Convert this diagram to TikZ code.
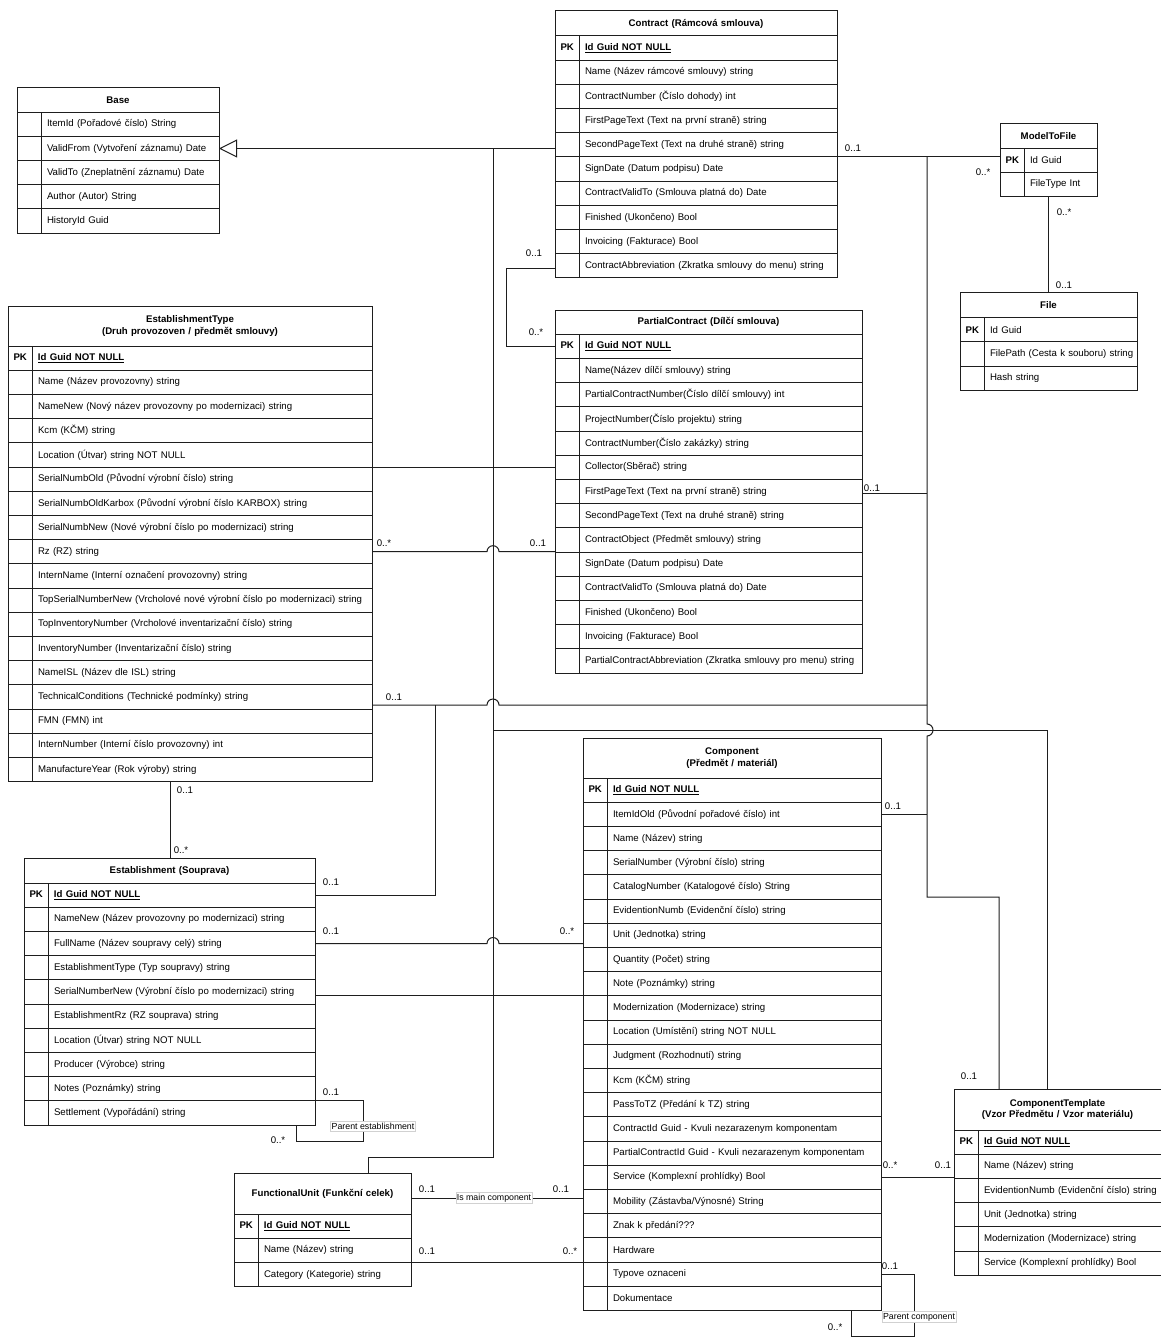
\documentclass[tikz,border=0pt]{standalone}
\usepackage{fontspec}
\setmainfont{Liberation Sans}
\usetikzlibrary{calc,arrows.meta}

\definecolor{erline}{RGB}{30,30,30}
\newcommand\erfont{\fontsize{9.65}{11.6}\selectfont}
\newcommand\erlblfont{\fontsize{8.8}{10}\selectfont}
\newcommand\rowh{24.2}
\newcommand\keyw{24.5}

% a table header: name, x, y, width, header height, title
\newcommand\ertable[6]{%
  \gdef\curT{#1}\gdef\curW{#4}\gdef\curN{0}%
  \node[ertitle, text width=#4pt, minimum height=#5pt, anchor=north west] (#1) at (#2,#3) {#6};%
}
% one attribute row of the current table: key, text
\newcommand\errow[2]{%
  \pgfmathtruncatemacro\nextN{\curN+1}\xdef\curN{\nextN}%
  \node[errow, text width=\curW pt, minimum height=\rowh pt, anchor=north west]
    (\curT-\curN) at ($(\curT.south west)+(0,{(\curN-1)*\rowh})$)
    {\mbox{\makebox[\keyw pt][c]{\bfseries #1}\hspace{5.5pt}#2}};%
}
% divider of the key column of the current table
\newcommand\erkeycol{%
  \draw[erbox] ($(\curT.south west)+(\keyw pt,0)$) -- ($(\curT-\curN.south west)+(\keyw pt,0)$);%
}
\newcommand\pkid{\textbf{\underline{Id Guid NOT NULL}}}

\begin{document}
\begin{tikzpicture}[x=1pt,y=-1pt,
  erbox/.style={draw=erline, line width=1pt},
  ertitle/.style={erbox, inner sep=0pt, outer sep=0pt, align=center, font=\erfont\bfseries},
  errow/.style={erbox, inner sep=0pt, outer sep=0pt, align=left, font=\erfont},
  rel/.style={draw=erline, line width=1pt},
  mult/.style={font=\erfont, inner sep=0pt},
  rolelabel/.style={font=\erlblfont, fill=white, draw=black!18, line width=0.4pt, inner xsep=1pt, inner ysep=1.5pt},
]
\fill[white] (0,0) rectangle (1160,1337);
\useasboundingbox (0,0) rectangle (1160,1337);

% ---------- Base ----------
\ertable{base}{17}{88}{202}{24.2}{Base}
\errow{}{ItemId (Pořadové číslo) String}
\errow{}{ValidFrom (Vytvoření záznamu) Date}
\errow{}{ValidTo (Zneplatnění záznamu) Date}
\errow{}{Author (Autor) String}
\errow{}{HistoryId Guid}
\erkeycol

% ---------- Contract ----------
\ertable{ct}{555}{11}{282}{25}{Contract (Rámcová smlouva)}
\errow{PK}{\pkid}
\errow{}{Name (Název rámcové smlouvy) string}
\errow{}{ContractNumber (Číslo dohody) int}
\errow{}{FirstPageText (Text na první straně) string}
\errow{}{SecondPageText (Text na druhé straně) string}
\errow{}{SignDate (Datum podpisu) Date}
\errow{}{ContractValidTo (Smlouva platná do) Date}
\errow{}{Finished (Ukončeno) Bool}
\errow{}{Invoicing (Fakturace) Bool}
\errow{}{ContractAbbreviation (Zkratka smlouvy do menu) string}
\erkeycol

% ---------- ModelToFile ----------
\ertable{mf}{1000}{124}{97}{24.2}{ModelToFile}
\errow{PK}{Id Guid}
\errow{}{FileType Int}
\erkeycol

% ---------- File ----------
\ertable{fi}{960}{293}{177}{24.6}{File}
\errow{PK}{Id Guid}
\errow{}{FilePath (Cesta k souboru) string}
\errow{}{Hash string}
\erkeycol

% ---------- PartialContract ----------
\ertable{pc}{555}{310}{307}{24.2}{PartialContract (Dílčí smlouva)}
\errow{PK}{\pkid}
\errow{}{Name(Název dílčí smlouvy) string}
\errow{}{PartialContractNumber(Číslo dílčí smlouvy) int}
\errow{}{ProjectNumber(Číslo projektu) string}
\errow{}{ContractNumber(Číslo zakázky) string}
\errow{}{Collector(Sběrač) string}
\errow{}{FirstPageText (Text na první straně) string}
\errow{}{SecondPageText (Text na druhé straně) string}
\errow{}{ContractObject (Předmět smlouvy) string}
\errow{}{SignDate (Datum podpisu) Date}
\errow{}{ContractValidTo (Smlouva platná do) Date}
\errow{}{Finished (Ukončeno) Bool}
\errow{}{Invoicing (Fakturace) Bool}
\errow{}{PartialContractAbbreviation (Zkratka smlouvy pro menu) string}
\erkeycol

% ---------- EstablishmentType ----------
\ertable{et}{8}{306}{364}{40}{EstablishmentType\\(Druh provozoven / předmět smlouvy)}
\errow{PK}{\pkid}
\errow{}{Name (Název provozovny) string}
\errow{}{NameNew (Nový název provozovny po modernizaci) string}
\errow{}{Kcm (KČM) string}
\errow{}{Location (Útvar) string NOT NULL}
\errow{}{SerialNumbOld (Původní výrobní číslo) string}
\errow{}{SerialNumbOldKarbox (Původní výrobní číslo KARBOX) string}
\errow{}{SerialNumbNew (Nové výrobní číslo po modernizaci) string}
\errow{}{Rz (RZ) string}
\errow{}{InternName (Interní označení provozovny) string}
\errow{}{TopSerialNumberNew (Vrcholové nové výrobní číslo po modernizaci) string}
\errow{}{TopInventoryNumber (Vrcholové inventarizační číslo) string}
\errow{}{InventoryNumber (Inventarizační číslo) string}
\errow{}{NameISL (Název dle ISL) string}
\errow{}{TechnicalConditions (Technické podmínky) string}
\errow{}{FMN (FMN) int}
\errow{}{InternNumber (Interní číslo provozovny) int}
\errow{}{ManufactureYear (Rok výroby) string}
\erkeycol

% ---------- Establishment ----------
\ertable{es}{24}{858}{291}{25}{Establishment (Souprava)}
\errow{PK}{\pkid}
\errow{}{NameNew (Název provozovny po modernizaci) string}
\errow{}{FullName (Název soupravy celý) string}
\errow{}{EstablishmentType (Typ soupravy) string}
\errow{}{SerialNumberNew (Výrobní číslo po modernizaci) string}
\errow{}{EstablishmentRz (RZ souprava) string}
\errow{}{Location (Útvar) string NOT NULL}
\errow{}{Producer (Výrobce) string}
\errow{}{Notes (Poznámky) string}
\errow{}{Settlement (Vypořádání) string}
\erkeycol

% ---------- FunctionalUnit ----------
\ertable{fu}{234}{1173}{177}{41}{FunctionalUnit (Funkční celek)}
\errow{PK}{\pkid}
\errow{}{Name (Název) string}
\errow{}{Category (Kategorie) string}
\erkeycol

% ---------- Component ----------
\ertable{co}{583}{738}{298}{40}{Component\\(Předmět / materiál)}
\errow{PK}{\pkid}
\errow{}{ItemIdOld (Původní pořadové číslo) int}
\errow{}{Name (Název) string}
\errow{}{SerialNumber (Výrobní číslo) string}
\errow{}{CatalogNumber (Katalogové číslo) String}
\errow{}{EvidentionNumb (Evidenční číslo) string}
\errow{}{Unit (Jednotka) string}
\errow{}{Quantity (Počet) string}
\errow{}{Note (Poznámky) string}
\errow{}{Modernization (Modernizace) string}
\errow{}{Location (Umístění) string NOT NULL}
\errow{}{Judgment (Rozhodnutí) string}
\errow{}{Kcm (KČM) string}
\errow{}{PassToTZ (Předání k TZ) string}
\errow{}{ContractId Guid - Kvuli nezarazenym komponentam}
\errow{}{PartialContractId Guid - Kvuli nezarazenym komponentam}
\errow{}{Service (Komplexní prohlídky) Bool}
\errow{}{Mobility (Zástavba/Výnosné) String}
\errow{}{Znak k předání???}
\errow{}{Hardware}
\errow{}{Typove oznaceni}
\errow{}{Dokumentace}
\erkeycol

% ---------- ComponentTemplate ----------
\ertable{ctp}{954}{1089}{207}{41}{ComponentTemplate\\(Vzor Předmětu / Vzor materiálu)}
\errow{PK}{\pkid}
\errow{}{Name (Název) string}
\errow{}{EvidentionNumb (Evidenční číslo) string}
\errow{}{Unit (Jednotka) string}
\errow{}{Modernization (Modernizace) string}
\errow{}{Service (Komplexní prohlídky) Bool}
\erkeycol

% ---------- generalisation into Base ----------
\coordinate (gTop) at (493,148.5);
\coordinate (gMid) at (493,730);
\coordinate (gLow) at (493,1157);
\coordinate (gFu) at (368,1157);
\coordinate (gCt) at (1047,730);
\draw[rel, -{Triangle[open, length=18pt, width=18pt]}] (ct.west |- base-2.east) -- (base-2.east);
\draw[rel] (gTop) -- (gLow) -- (gFu) -- (gFu |- fu.north);
\draw[rel] (et-6.north east) -- (pc.west |- et-6.north east);
\draw[rel] (es.east |- co-10.north west) -- (co-10.north west);
\draw[rel] (gMid) -- (gCt) -- (gCt |- ctp.north);

% ---------- Contract -- PartialContract ----------
\coordinate (cpA) at (506,269);
\draw[rel] (ct.west |- cpA) -- (cpA) -- (cpA |- pc-1.west) -- (pc-1.west);

% ---------- links to ModelToFile ----------
\coordinate (mTop) at (927,157);
\coordinate (mLow) at (927,897);
\coordinate (mCt) at (999,897);
\coordinate (mEs) at (435,705);
\draw[rel] (ct-5.south east) -- (mf.west |- ct-5.south east);
\draw[rel] (mTop) -- (927,724) arc[start angle=90, end angle=-90, radius=6pt] -- (mLow) -- (mCt) -- (mCt |- ctp.north);
\draw[rel] (pc.east |- 0,493) -- (mTop |- 0,493);
\draw[rel] (et.east |- mEs) -- (487,705) arc[start angle=180, end angle=0, radius=6pt] -- (mTop |- mEs);
\draw[rel] (mEs) -- (es-1.east -| mEs) -- (es-1.east);
\draw[rel] (co-2.east) -- (mTop |- co-2.east);

% ---------- ModelToFile -- File ----------
\draw[rel] (mf-2.south) -- (fi.north -| mf-2.south);

% ---------- EstablishmentType -- PartialContract ----------
\draw[rel] (et-9.east) -- ($(et-9.east -| gTop)+(-6pt,0)$) arc[start angle=180, end angle=0, radius=6pt] -- (pc.west |- et-9.east);

% ---------- Establishment -- Component ----------
\draw[rel] (es-3.east) -- ($(es-3.east -| gTop)+(-6pt,0)$) arc[start angle=180, end angle=0, radius=6pt] -- (co.west |- es-3.east);

% ---------- Establishment parent ----------
\draw[rel] (es-9.south east) -- (es-9.south east -| 363,0) -- (363,1141) -- (296,1141) -- (es-10.south -| 296,0);

% ---------- EstablishmentType -- Establishment ----------
\draw[rel] (et-18.south -| 170,0) -- (es.north -| 170,0);

% ---------- FunctionalUnit -- Component ----------
\draw[rel] (fu.east |- 0,1198) -- (co.west |- 0,1198);
\draw[rel] (fu-2.south east) -- (co.west |- fu-2.south east);

% ---------- Component -- ComponentTemplate ----------
\draw[rel] (co-17.east) -- (ctp.west |- co-17.east);

% ---------- Component parent ----------
\draw[rel] (co-21.east) -- (co-21.east -| 914,0) -- (914,1336) -- (851,1336) -- (co-22.south -| 851,0);

% ---------- role labels ----------
\node[rolelabel] (lblEs) at (373,1126) {Parent establishment};
\node[rolelabel] (lblMain) at (494,1198) {Is main component};
\node[rolelabel] (lblCo) at (919,1317) {Parent component};

% ---------- multiplicities ----------
\node[mult] (m1) at (534,253) {0..1};
\node[mult] (m2) at (536,332) {0..*};
\node[mult] (m3) at (853,148) {0..1};
\node[mult] (m4) at (983,172) {0..*};
\node[mult] (m5) at (1064,212) {0..*};
\node[mult] (m6) at (1064,285) {0..1};
\node[mult] (m7) at (872,488) {0..1};
\node[mult] (m8) at (384,543) {0..*};
\node[mult] (m9) at (538,543) {0..1};
\node[mult] (m10) at (394,697) {0..1};
\node[mult] (m11) at (185,790) {0..1};
\node[mult] (m12) at (181,850) {0..*};
\node[mult] (m13) at (893,806) {0..1};
\node[mult] (m14) at (331,882) {0..1};
\node[mult] (m15) at (331,931) {0..1};
\node[mult] (m16) at (567,931) {0..*};
\node[mult] (m17) at (969,1076) {0..1};
\node[mult] (m18) at (331,1092) {0..1};
\node[mult] (m19) at (278,1140) {0..*};
\node[mult] (m20) at (890,1165) {0..*};
\node[mult] (m21) at (943,1165) {0..1};
\node[mult] (m22) at (427,1189) {0..1};
\node[mult] (m23) at (561,1189) {0..1};
\node[mult] (m24) at (427,1251) {0..1};
\node[mult] (m25) at (570,1251) {0..*};
\node[mult] (m26) at (890,1266) {0..1};
\node[mult] (m27) at (835,1327) {0..*};
\end{tikzpicture}
\end{document}
